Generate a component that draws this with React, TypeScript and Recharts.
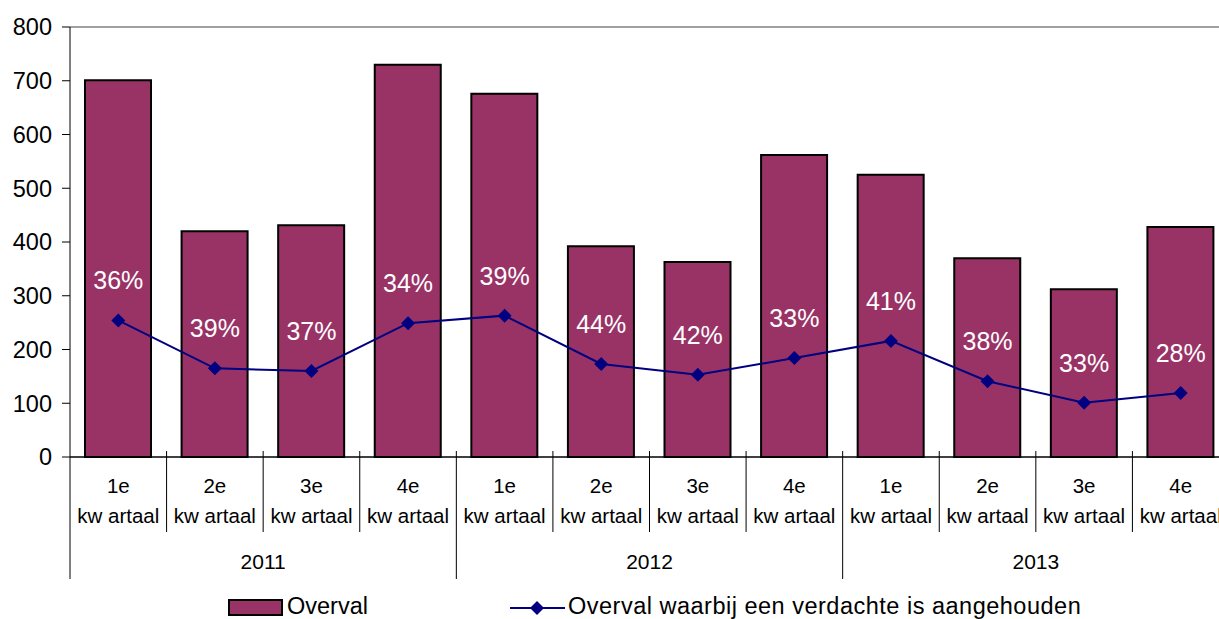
import React from "react";
import { ComposedChart, Bar, Line, XAxis, YAxis, ReferenceLine, LabelList } from "recharts";

const quarters = ["1e", "2e", "3e", "4e", "1e", "2e", "3e", "4e", "1e", "2e", "3e", "4e"];
const years = ["2011", "2012", "2013"];
const overval = [701, 420, 431, 730, 676, 392, 363, 562, 525, 370, 312, 428];
const aangehouden = [254, 165, 160, 249, 263, 173, 153, 184, 216, 141, 101, 119];
const percentages = ["36%", "39%", "37%", "34%", "39%", "44%", "42%", "33%", "41%", "38%", "33%", "28%"];
const yTicks = [0, 100, 200, 300, 400, 500, 600, 700, 800];

const data = quarters.map((q, i) => ({
  key: `${years[Math.floor(i / 4)]}-${q}`,
  quarter: q,
  year: years[Math.floor(i / 4)],
  overval: overval[i],
  aangehouden: aangehouden[i],
  pct: percentages[i],
}));

const FONT = '"Liberation Sans", Arial, sans-serif';
const CHART_W = 1240;
const CHART_H = 619;
const MARGIN = { top: 27, right: 11, left: 0, bottom: 0 };
const Y_W = 70;
const X_H = 162;
const BW = (CHART_W - MARGIN.right - Y_W) / quarters.length;

const BAR_COLOR = "#993366";
const LINE_COLOR = "#000080";

const QuarterTick = (props: any) => {
  const { x, y, payload } = props;
  const i: number = payload.index ?? props.index ?? 0;
  const bw = payload.offset ? payload.offset * 2 : BW;
  const left = x - bw / 2;
  const yearStart = i % 4 === 0;
  const d = data[i];
  return (
    <g>
      <line
        x1={left}
        x2={left}
        y1={i === 0 ? y : y - 6}
        y2={yearStart ? y + 122 : y + 75}
        stroke="#000"
        strokeWidth={1}
      />
      <text x={x} y={y + 36} textAnchor="middle" fontSize={20.5} fontFamily={FONT} fill="#000">
        {d ? d.quarter : ""}
      </text>
      <text x={x} y={y + 66} textAnchor="middle" fontSize={20.5} fontFamily={FONT} fill="#000">
        kw artaal
      </text>
      {i % 4 === 1 && d ? (
        <text x={x + bw / 2} y={y + 112} textAnchor="middle" fontSize={21} fontFamily={FONT} fill="#000">
          {d.year}
        </text>
      ) : null}
    </g>
  );
};

const Diamond = (props: any) => {
  const { cx, cy } = props;
  if (cx == null || cy == null) return null;
  const r = 7;
  return <path d={`M${cx},${cy - r}L${cx + r},${cy}L${cx},${cy + r}L${cx - r},${cy}Z`} fill={LINE_COLOR} />;
};

const PctLabel = (props: any) => {
  const { x, y, value } = props;
  return (
    <text x={x} y={y - 31} textAnchor="middle" fontSize={25} fontFamily={FONT} fill="#fff">
      {value}
    </text>
  );
};

const LegendOverlay = () => (
  <svg width={1219} height={40} style={{ position: "absolute", left: 0, top: 588 }}>
    <rect x={229} y={12} width={53} height={15} fill={BAR_COLOR} stroke="#000" strokeWidth={2} />
    <text x={287} y={26} fontSize={23.5} fontFamily={FONT} fill="#000">
      Overval
    </text>
    <line x1={510} x2={565} y1={20} y2={20} stroke={LINE_COLOR} strokeWidth={2} />
    <path d="M537,13L544,20L537,27L530,20Z" fill={LINE_COLOR} />
    <text x={568} y={26} fontSize={23.5} letterSpacing={0.5} fontFamily={FONT} fill="#000">
      Overval waarbij een verdachte is aangehouden
    </text>
  </svg>
);

export default function App() {
  return (
    <div
      style={{
        position: "absolute",
        left: 0,
        top: 0,
        width: 1219,
        height: 619,
        overflow: "hidden",
        background: "#fff",
      }}
    >
      <ComposedChart width={CHART_W} height={CHART_H} data={data} margin={MARGIN}>
        <XAxis
          dataKey="key"
          xAxisId={0}
          height={X_H}
          interval={0}
          tickSize={0}
          tickMargin={0}
          tickLine={false}
          axisLine={{ stroke: "#000", strokeWidth: 1.5 }}
          tick={<QuarterTick />}
        />
        <YAxis
          width={Y_W}
          domain={[0, 800]}
          ticks={yTicks}
          interval={0}
          tickSize={8}
          tickMargin={10}
          axisLine={{ stroke: "#000" }}
          tickLine={{ stroke: "#000" }}
          tick={{ fontSize: 23.5, fontFamily: FONT, fill: "#000" }}
        />
        <ReferenceLine y={800} stroke="#808080" strokeWidth={1.5} />
        <Bar
          dataKey="overval"
          fill={BAR_COLOR}
          stroke="#000"
          strokeWidth={2}
          barSize={66}
          isAnimationActive={false}
        />
        <Line
          dataKey="aangehouden"
          stroke={LINE_COLOR}
          strokeWidth={2}
          dot={<Diamond />}
          activeDot={false}
          isAnimationActive={false}
        >
          <LabelList dataKey="pct" content={<PctLabel />} />
        </Line>
      </ComposedChart>
      <LegendOverlay />
    </div>
  );
}
